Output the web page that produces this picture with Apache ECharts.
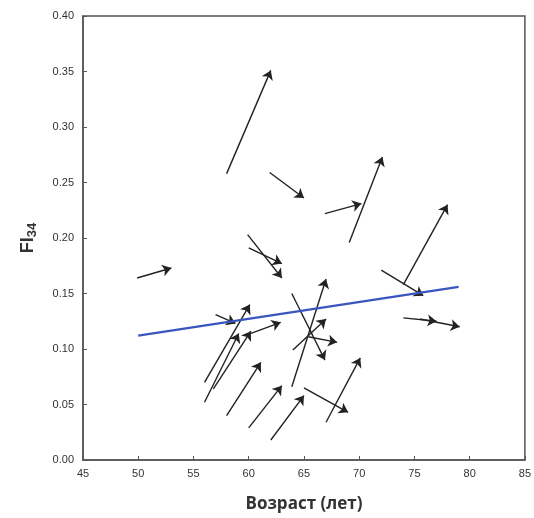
<!DOCTYPE html>
<html>
<head>
<meta charset="utf-8">
<script src="https://cdn.jsdelivr.net/npm/echarts@6/dist/echarts.min.js"></script>
<style>html,body{margin:0;padding:0;background:#fff;}#c{width:534px;height:518px;}</style>
</head>
<body>
<div id="c"></div>
<script>
// Arrow start / end points (age, FI34)
var startX = [58.0, 61.9, 66.9, 69.1, 74.0, 72.0, 74.0, 75.5, 49.9, 59.9, 60.0, 57.0, 56.0, 56.0, 56.8, 60.2, 58.0, 60.0, 62.0, 63.9, 63.9, 64.0, 65.4, 65.0, 67.0];
var startY = [0.258, 0.259, 0.222, 0.196, 0.158, 0.171, 0.128, 0.127, 0.164, 0.203, 0.191, 0.131, 0.070, 0.052, 0.064, 0.114, 0.040, 0.029, 0.018, 0.150, 0.066, 0.099, 0.111, 0.065, 0.034];
var endX   = [62.0, 65.0, 70.2, 72.1, 78.0, 75.8, 77.0, 79.1, 53.0, 63.0, 63.0, 58.8, 60.1, 59.1, 60.2, 62.9, 61.1, 63.0, 65.0, 66.9, 67.0, 67.0, 68.0, 69.0, 70.1];
var endY   = [0.351, 0.236, 0.231, 0.273, 0.230, 0.148, 0.125, 0.120, 0.173, 0.164, 0.177, 0.123, 0.140, 0.114, 0.116, 0.124, 0.088, 0.067, 0.058, 0.090, 0.163, 0.127, 0.106, 0.043, 0.092];
// Regression line
var trendX = [50, 79];
var trendY = [0.112, 0.156];

var arrowData = startX.map(function (x, i) {
  return { coords: [[x, startY[i]], [endX[i], endY[i]]] };
});
var trendData = trendX.map(function (x, i) { return [x, trendY[i]]; });

var chart = echarts.init(document.getElementById('c'));
chart.setOption({
  animation: false,
  grid: { left: 83, right: 7, top: 16, bottom: 58, show: true, borderColor: '#555', borderWidth: 1.5, backgroundColor: 'transparent' },
  xAxis: {
    type: 'value', min: 45, max: 85, interval: 5,
    name: 'Возраст (лет)', nameLocation: 'middle', nameGap: 36,
    nameTextStyle: { fontFamily: 'Open Sans', fontWeight: 'bold', fontSize: 17, color: '#333' },
    axisLine: { show: true, lineStyle: { color: '#555', width: 1.5 } },
    axisTick: { show: true, inside: true, length: 4, lineStyle: { color: '#555' } },
    axisLabel: { fontFamily: 'Liberation Sans', fontSize: 11, color: '#333', margin: 8 },
    splitLine: { show: false }
  },
  yAxis: {
    type: 'value', min: 0, max: 0.4, interval: 0.05,
    name: 'FI{s|34}', nameLocation: 'middle', nameGap: 44, nameRotate: 90,
    nameTextStyle: { fontFamily: 'Liberation Sans', fontWeight: 'bold', fontSize: 18, color: '#333',
      rich: { s: { fontFamily: 'Liberation Sans', fontWeight: 'bold', fontSize: 13, color: '#333', verticalAlign: 'bottom', padding: [8, 0, 0, 0] } } },
    axisLine: { show: true, lineStyle: { color: '#555', width: 1.5 } },
    axisTick: { show: true, inside: true, length: 4, lineStyle: { color: '#555' } },
    axisLabel: { fontFamily: 'Liberation Sans', fontSize: 11, color: '#333', margin: 9,
      formatter: function (v) { return v.toFixed(2); } },
    splitLine: { show: false }
  },
  series: [
    {
      type: 'lines', coordinateSystem: 'cartesian2d', data: arrowData,
      symbol: ['none', 'arrow'], symbolSize: 9,
      lineStyle: { color: '#222', width: 1.4, opacity: 1 },
      z: 3
    },
    {
      type: 'line', data: trendData, symbol: 'none',
      lineStyle: { color: '#3a55c0', width: 2.2 }, z: 4
    }
  ]
});
</script>
</body>
</html>
